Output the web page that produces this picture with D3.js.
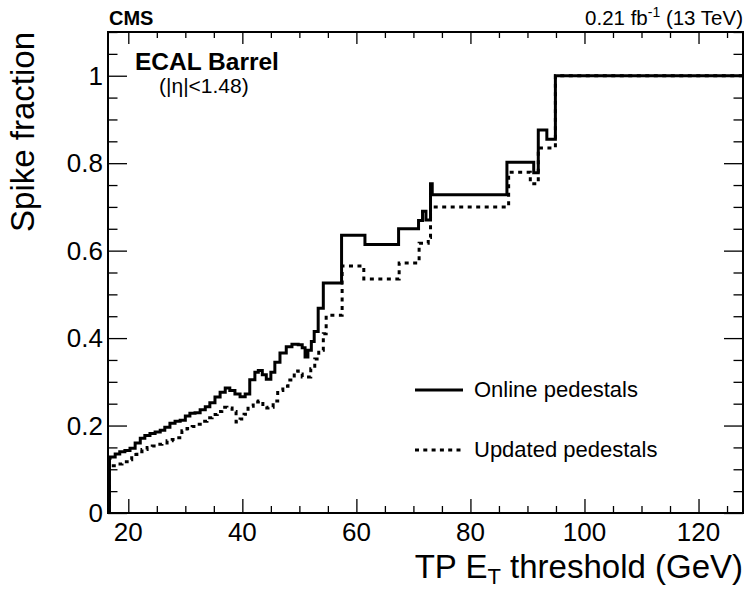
<!DOCTYPE html>
<html><head><meta charset="utf-8">
<script src="https://cdn.jsdelivr.net/npm/d3@7/dist/d3.min.js"></script>
<style>
body{margin:0;background:#fff}
svg text{font-family:"Liberation Sans",Arial,Helvetica,sans-serif;fill:#000}
</style>
</head><body>
<svg id="chart" width="745" height="592"></svg>
<script>
// ---- data (threshold in GeV, spike fraction) ----
const onlineThr = [16.44,16.7,16.8,17.7,18.5,19.4,20.3,21.2,22.1,22.9,23.8,24.7,25.6,26.4,27.3,28.2,29.1,30.0,30.8,31.7,32.6,33.5,34.3,35.2,36.1,37.0,37.8,38.7,39.6,40.5,41.3,42.2,42.8,43.5,44.2,45.0,45.7,46.6,47.7,48.7,49.8,50.5,51.0,51.5,52.1,52.6,53.3,54.2,57.4,61.5,67.4,70.9,71.6,72.2,73.0,73.3,86.4,91.1,91.9,93.4,94.9];
const onlineFrac = [0,0.125,0.128,0.135,0.14,0.143,0.148,0.16,0.171,0.177,0.182,0.185,0.189,0.196,0.205,0.21,0.212,0.222,0.228,0.229,0.236,0.243,0.252,0.265,0.276,0.286,0.28,0.272,0.266,0.272,0.305,0.322,0.326,0.316,0.306,0.322,0.345,0.366,0.38,0.386,0.385,0.378,0.357,0.372,0.392,0.415,0.468,0.526,0.635,0.614,0.65,0.669,0.69,0.67,0.753,0.728,0.802,0.778,0.876,0.855,1.0];
const updatedThr = [16.44,16.7,17.1,18.0,18.9,19.8,20.6,21.5,22.4,23.3,24.2,25.0,25.9,26.8,27.7,28.5,29.4,30.3,31.2,32.1,32.9,33.8,34.7,35.6,36.4,37.3,38.2,38.9,39.6,40.3,41.0,41.9,42.8,43.6,44.5,45.4,46.2,47.1,48.0,49.1,49.8,50.5,51.3,52.0,52.7,53.4,54.2,54.7,57.5,61.3,67.5,71.0,72.6,73.0,86.7,90.5,91.9,94.9];
const updatedFrac = [0,0.10,0.108,0.112,0.117,0.122,0.134,0.14,0.145,0.15,0.153,0.157,0.16,0.165,0.168,0.172,0.188,0.193,0.198,0.203,0.21,0.218,0.225,0.232,0.242,0.24,0.232,0.208,0.215,0.226,0.244,0.254,0.256,0.24,0.242,0.256,0.28,0.29,0.304,0.325,0.318,0.311,0.311,0.33,0.352,0.372,0.41,0.452,0.565,0.535,0.572,0.617,0.63,0.70,0.779,0.753,0.835,1.0];
const xMajorTicks = [20,40,60,80,100,120];
const yMajorTicks = [0,0.2,0.4,0.6,0.8,1];
const yTickLabels = ["0","0.2","0.4","0.6","0.8","1"];
const seriesNames = ["Online pedestals","Updated pedestals"];

const xDomain = [16.44, 127.8];
const yDomain = [0, 1.1];

const svg = d3.select("#chart");
const L = 108, R = 743, T = 32, B = 513;
const x = d3.scaleLinear().domain(xDomain).range([L, R]);
const y = d3.scaleLinear().domain(yDomain).range([B, T]);

svg.append("defs").append("clipPath").attr("id","clip")
  .append("rect").attr("x",L).attr("y",T-3).attr("width",R-L).attr("height",B-T+3);

// minor tick values
const xMinor = d3.range(20, 128, 5).filter(v => !xMajorTicks.includes(v));
const yMinor = d3.range(0, 1.1001, 0.05).map(v => +v.toFixed(2)).filter(v => !yMajorTicks.includes(v));

const tickStroke = "#000";
function drawAxis(axisGen, tx, ty) {
  const g = svg.append("g").attr("transform", `translate(${tx},${ty})`).call(axisGen);
  g.select(".domain").remove();
  g.selectAll("line").attr("stroke", tickStroke).attr("stroke-width", 1.3);
  g.selectAll("text").remove();
  return g;
}
// bottom
drawAxis(d3.axisTop(x).tickValues(xMajorTicks).tickSize(14), 0, B);
drawAxis(d3.axisTop(x).tickValues(xMinor).tickSize(7), 0, B);
// top
drawAxis(d3.axisBottom(x).tickValues(xMajorTicks).tickSize(12), 0, T);
drawAxis(d3.axisBottom(x).tickValues(xMinor).tickSize(6), 0, T);
// left
drawAxis(d3.axisRight(y).tickValues(yMajorTicks).tickSize(19), L, 0);
drawAxis(d3.axisRight(y).tickValues(yMinor).tickSize(9.5), L, 0);
// right
drawAxis(d3.axisLeft(y).tickValues(yMajorTicks).tickSize(19), R, 0);
drawAxis(d3.axisLeft(y).tickValues(yMinor).tickSize(9.5), R, 0);

// tick labels
svg.append("g").selectAll("text").data(xMajorTicks).join("text")
  .attr("x", d => x(d)).attr("y", 541).attr("text-anchor","middle")
  .attr("font-size", 26).text(d => d);
svg.append("g").selectAll("text").data(yMajorTicks).join("text")
  .attr("x", 103).attr("y", d => y(d)).attr("dy","0.35em").attr("text-anchor","end")
  .attr("font-size", 26).text((d,i) => yTickLabels[i]);

// curves
const line = d3.line().x(d => x(d[0])).y(d => y(d[1])).curve(d3.curveStepAfter);
function pts(xs, ys) {
  const p = xs.map((v,i) => [v, ys[i]]);
  p.push([xDomain[1], ys[ys.length-1]]);
  return p;
}
const plot = svg.append("g").attr("clip-path","url(#clip)");
plot.append("path").attr("d", line(pts(updatedThr, updatedFrac)))
  .attr("fill","none").attr("stroke","#000").attr("stroke-width",3)
  .attr("stroke-dasharray","4,4.5");
plot.append("path").attr("d", line(pts(onlineThr, onlineFrac)))
  .attr("fill","none").attr("stroke","#000").attr("stroke-width",3);

// frame
svg.append("rect").attr("x",L).attr("y",T).attr("width",R-L).attr("height",B-T)
  .attr("fill","none").attr("stroke","#000").attr("stroke-width",2);

// legend
const leg = svg.append("g");
[[390,null],[450,"4,4.3"]].forEach((e,i) => {
  leg.append("line").attr("x1",415).attr("x2",463).attr("y1",e[0]).attr("y2",e[0])
    .attr("stroke","#000").attr("stroke-width",3).attr("stroke-dasharray", e[1]);
  leg.append("text").attr("x",474).attr("y",e[0]+7).attr("font-size",22).text(seriesNames[i]);
});

// texts
svg.append("text").attr("x",109).attr("y",25).attr("font-size",20).attr("font-weight","bold").text("CMS");
const lumi = svg.append("text").attr("x",743).attr("y",25).attr("text-anchor","end").attr("font-size",20.5);
lumi.append("tspan").text("0.21 fb");
lumi.append("tspan").attr("font-size",14).attr("dy",-8).text("-1");
lumi.append("tspan").attr("dy",8).text(" (13 TeV)");
svg.append("text").attr("x",135).attr("y",70).attr("font-size",24.5).attr("font-weight","bold").text("ECAL Barrel");
svg.append("text").attr("x",159).attr("y",93).attr("font-size",21).text("(|η|<1.48)");

// axis titles
const xt = svg.append("text").attr("x",743).attr("y",578).attr("text-anchor","end").attr("font-size",33);
xt.append("tspan").text("TP E");
xt.append("tspan").attr("font-size",22).attr("dy",6).text("T");
xt.append("tspan").attr("dy",-6).text(" threshold (GeV)");
svg.append("text").attr("transform","translate(34,32) rotate(-90)").attr("text-anchor","end")
  .attr("font-size",33).text("Spike fraction");
</script>
</body></html>
